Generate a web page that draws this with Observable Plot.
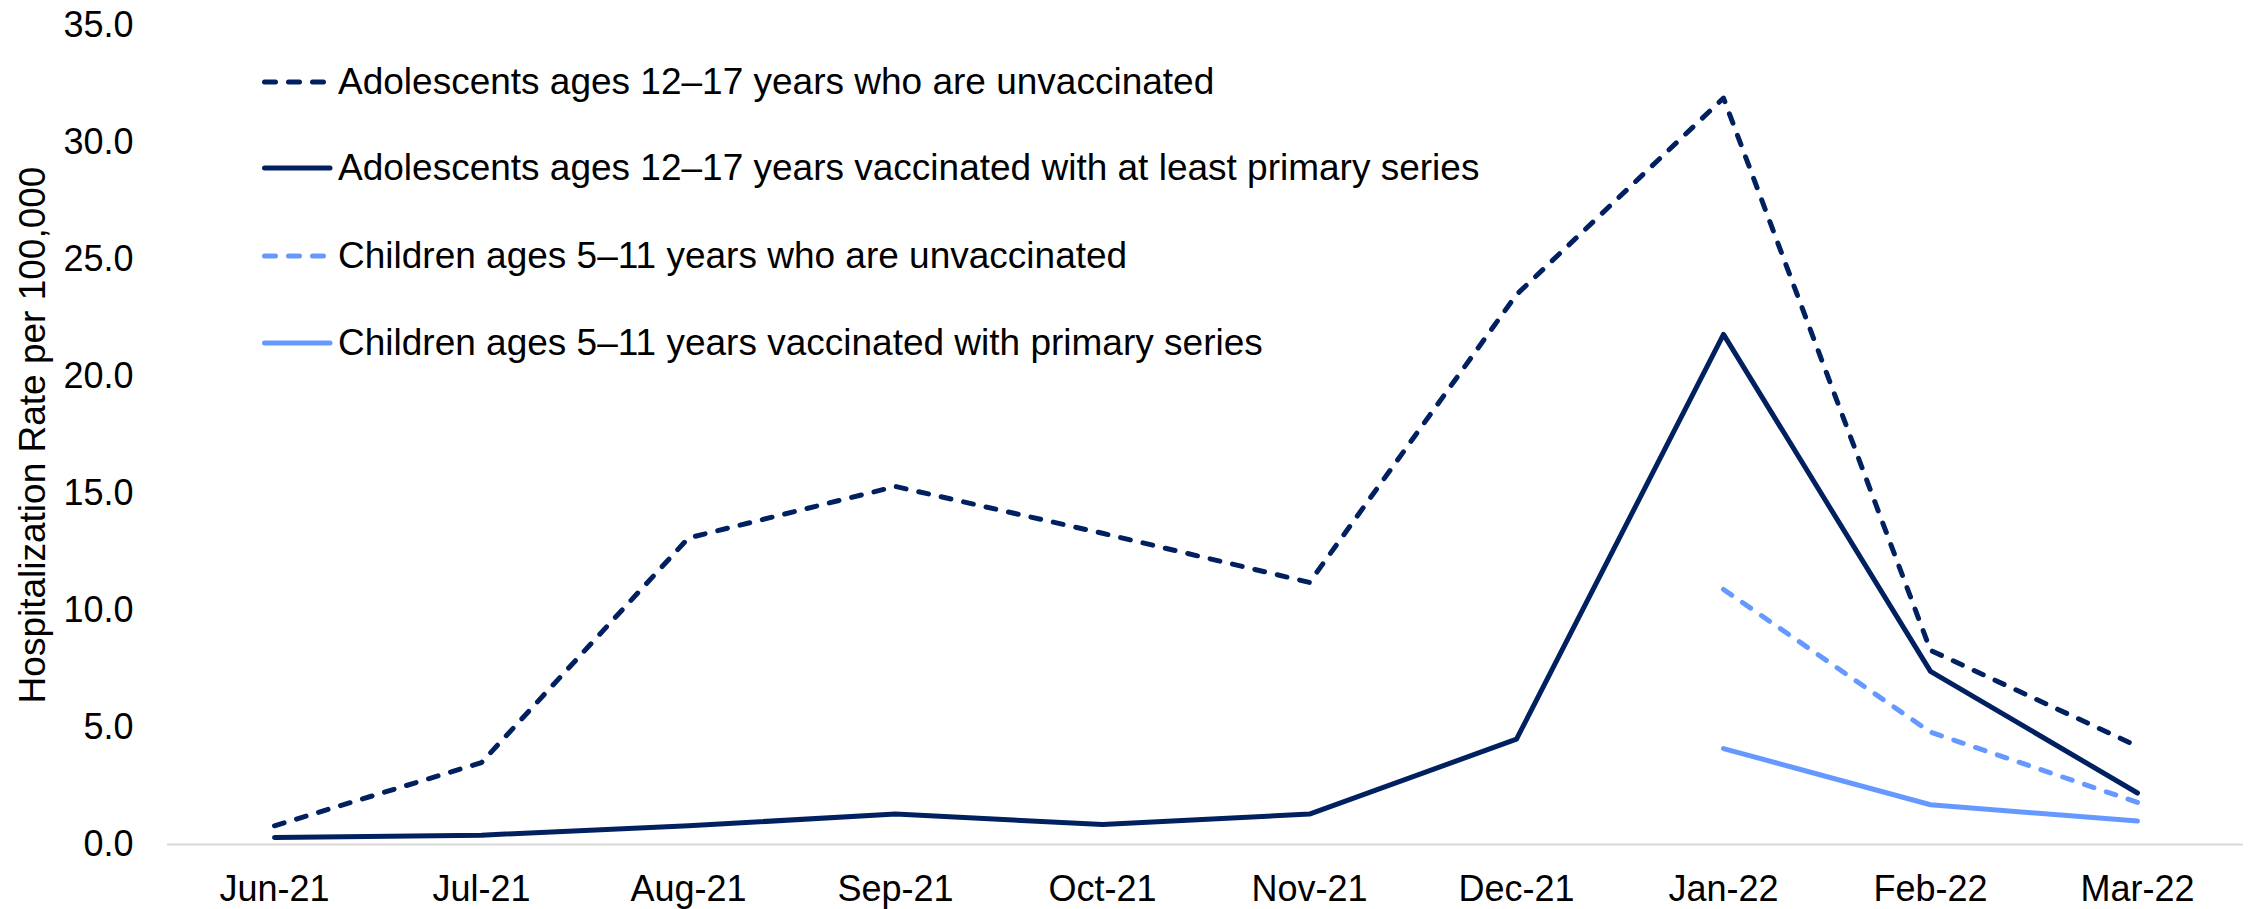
<!DOCTYPE html>
<html><head><meta charset="utf-8">
<script src="https://cdn.jsdelivr.net/npm/d3@7"></script>
<script src="https://cdn.jsdelivr.net/npm/@observablehq/plot@0.6"></script>
<style>
body{margin:0;background:#fff;font-family:"Liberation Sans",Arial,sans-serif;}
#wrap{position:relative;width:2252px;height:909px;overflow:hidden;}
.leg{position:absolute;left:262px;display:flex;align-items:center;height:60px;font-size:37px;color:#000;white-space:nowrap;}
.leg svg{display:block;margin-right:0;}
</style></head><body><div id="wrap"></div>
<script>
const months = ["Jun-21","Jul-21","Aug-21","Sep-21","Oct-21","Nov-21","Dec-21","Jan-22","Feb-22","Mar-22"];
const adolUnvax  = [0.8, 3.5, 13.1, 15.3, 13.3, 11.2, 23.5, 31.9, 8.3, 4.2];
const adolVax    = [0.3, 0.4, 0.8, 1.3, 0.85, 1.3, 4.5, 21.8, 7.4, 2.2];
const childUnvax = [null, null, null, null, null, null, null, 10.9, 4.8, 1.8];
const childVax   = [null, null, null, null, null, null, null, 4.1, 1.7, 1.0];
const seriesNames = [
  "Adolescents ages 12\u201317 years who are unvaccinated",
  "Adolescents ages 12\u201317 years vaccinated with at least primary series",
  "Children ages 5\u201311 years who are unvaccinated",
  "Children ages 5\u201311 years vaccinated with primary series"
];
const seriesValues = [adolUnvax, adolVax, childUnvax, childVax];
const seriesColors = ["#002060", "#002060", "#6699FF", "#6699FF"];
const seriesDashed = [true, false, true, false];
const yTicks = [0, 5, 10, 15, 20, 25, 30, 35];
const yLabel = "Hospitalization Rate per 100,000";

const rows = seriesNames.flatMap((name, i) =>
  months.map((m, j) => ({month: m, value: seriesValues[i][j], series: name}))
        .filter(d => d.value != null));

const lineMarks = seriesNames.map((name, i) =>
  Plot.line(rows.filter(d => d.series === name), {
    x: "month", y: "value",
    stroke: seriesColors[i], strokeWidth: 5,
    strokeDasharray: seriesDashed[i] ? "10,13" : null,
    strokeLinecap: "round", strokeLinejoin: "round"
  }));

const chart = Plot.plot({
  width: 2252, height: 909,
  marginLeft: 167, marginRight: 9, marginTop: 25, marginBottom: 65,
  style: {fontFamily: "'Liberation Sans', Arial, sans-serif", fontSize: "36px", color: "#000", background: "#fff"},
  x: {type: "point", domain: months, padding: 0.5, label: null, tickSize: 0, tickPadding: 31},
  y: {domain: [0, 35], ticks: yTicks, tickFormat: d => d.toFixed(1), label: null, tickSize: 0, tickPadding: 34},
  marks: [
    Plot.ruleY([0], {stroke: "#d9d9d9", strokeWidth: 2}),
    ...lineMarks.slice().reverse(),
    Plot.text([yLabel], {frameAnchor: "left", textAnchor: "middle", lineAnchor: "middle", dx: -134, rotate: -90, fontSize: 37, fill: "#000"})
  ]
});
const wrap = document.getElementById("wrap");
wrap.appendChild(chart);

const legendY = [82, 168, 256, 343];
seriesNames.forEach((name, i) => {
  const div = document.createElement("div");
  div.className = "leg";
  div.style.top = (legendY[i] - 30) + "px";
  const ns = "http://www.w3.org/2000/svg";
  const s = document.createElementNS(ns, "svg");
  s.setAttribute("width", 76); s.setAttribute("height", 12);
  const l = document.createElementNS(ns, "line");
  l.setAttribute("x1", 2.5); l.setAttribute("x2", seriesDashed[i] ? 63 : 68);
  l.setAttribute("y1", 6); l.setAttribute("y2", 6);
  l.setAttribute("stroke", seriesColors[i]); l.setAttribute("stroke-width", 5);
  l.setAttribute("stroke-linecap", "round");
  if (seriesDashed[i]) l.setAttribute("stroke-dasharray", "11,13");
  s.appendChild(l);
  div.appendChild(s);
  const t = document.createElement("span");
  t.textContent = name;
  div.appendChild(t);
  wrap.appendChild(div);
});
</script></body></html>
